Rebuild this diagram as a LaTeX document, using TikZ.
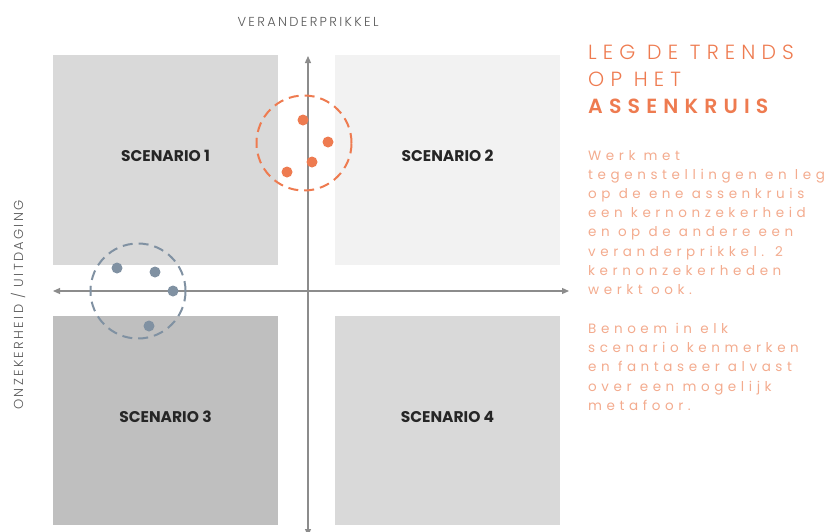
\documentclass[tikz,border=0pt]{standalone}
\usepackage{fontspec}
\IfFontExistsTF{Poppins Light}
    {\setmainfont{Poppins}
     \newfontfamily\lightfont[LetterSpace=18]{Poppins Light}
     \newfontfamily\spaced[LetterSpace=34]{Poppins}
     \newfontfamily\titlespaced[LetterSpace=30, BoldFont=Poppins SemiBold]{Poppins Light}}
    {\setmainfont{Poppins}
     \newfontfamily\lightfont[LetterSpace=18]{Poppins}
     \newfontfamily\spaced[LetterSpace=34]{Poppins}
     \newfontfamily\titlespaced[LetterSpace=26]{Poppins}}
\usetikzlibrary{arrows.meta}

\definecolor{trendorange}{HTML}{EE7B50}
\definecolor{bodyorange}{HTML}{F3AB8E}
\definecolor{trendblue}{HTML}{8091A2}
\definecolor{axisgray}{HTML}{8C8C8C}
\definecolor{boxlight}{HTML}{F2F2F2}
\definecolor{boxmid}{HTML}{D9D9D9}
\definecolor{boxdark}{HTML}{BFBFBF}

\begin{document}
\begin{tikzpicture}[
        x=1pt, y=-1pt,
        scenario/.style={rectangle, minimum width=225pt, minimum height=210pt, inner sep=0pt,
            text depth=8pt, font=\fontsize{15.5}{17}\selectfont\bfseries, text=black!85},
        axis/.style={{Triangle[length=7pt,width=6pt]}-{Triangle[length=7pt,width=6pt]}, axisgray, line width=1.2pt},
        ring/.style={circle, draw=#1, dash pattern=on 10pt off 6pt, line width=2pt, minimum size=95pt, inner sep=0pt},
        dot/.style={circle, fill=#1, minimum size=11pt, inner sep=0pt},
        axislabel/.style={text=black!65, font=\fontsize{13}{15}\selectfont\lightfont}
    ]
    \useasboundingbox (0,0) rectangle (830,531);

    % the four scenarios
    \node[scenario, fill=boxmid] (s1) at (165.5,160) {SCENARIO 1};
    \node[scenario, fill=boxlight] (s2) at (447.5,160) {SCENARIO 2};
    \node[scenario, fill=boxdark, minimum height=209pt] (s3) at (165.5,420.5) {SCENARIO 3};
    \node[scenario, fill=boxmid, minimum height=209pt] (s4) at (447.5,420.5) {SCENARIO 4};

    % assenkruis
    \coordinate (west) at (53,291);
    \coordinate (east) at (569,291);
    \coordinate (north) at (308,56);
    \coordinate (south) at (308,536);
    \draw[axis] (west) -- (east);
    \draw[axis] (south) -- (north);

    \node[axislabel] (vp) at (308,22) {VERANDERPRIKKEL};
    \node[axislabel, rotate=90] (oz) at (18,305) {ONZEKERHEID / UITDAGING};

    % trends
    \node[ring=trendorange] (r1) at (304,143) {};
    \foreach \x/\y/\n in {303/120/1, 328/142/2, 312/162/3, 287/172/4}
        \node[dot=trendorange] (o\n) at (\x,\y) {};
    \node[ring=trendblue] (r2) at (138,291) {};
    \foreach \x/\y/\n in {117/268/1, 155/272/2, 173/291/3, 149/326/4}
        \node[dot=trendblue] (b\n) at (\x,\y) {};

    % uitleg
    \node[anchor=north west, align=left, inner sep=0pt, text=trendorange,
          font=\fontsize{20.5}{26.8}\selectfont\titlespaced] (title) at (588,45)
        {LEG DE TRENDS\\OP HET\\{\bfseries ASSENKRUIS}};
    \node[anchor=north west, align=left, inner sep=0pt, text=bodyorange,
          font=\fontsize{13.5}{19.2}\selectfont\spaced] (body1) at (588,150)
        {Werk met\\tegenstellingen en leg\\op de ene assenkruis\\een kernonzekerheid\\en op de andere een\\veranderprikkel. 2\\kernonzekerheden\\werkt ook.};
    \node[anchor=north west, align=left, inner sep=0pt, text=bodyorange,
          font=\fontsize{13.5}{19.2}\selectfont\spaced] (body2) at (588,323)
        {Benoem in elk\\scenario kenmerken\\en fantaseer alvast\\over een mogelijk\\metafoor.};
\end{tikzpicture}
\end{document}
